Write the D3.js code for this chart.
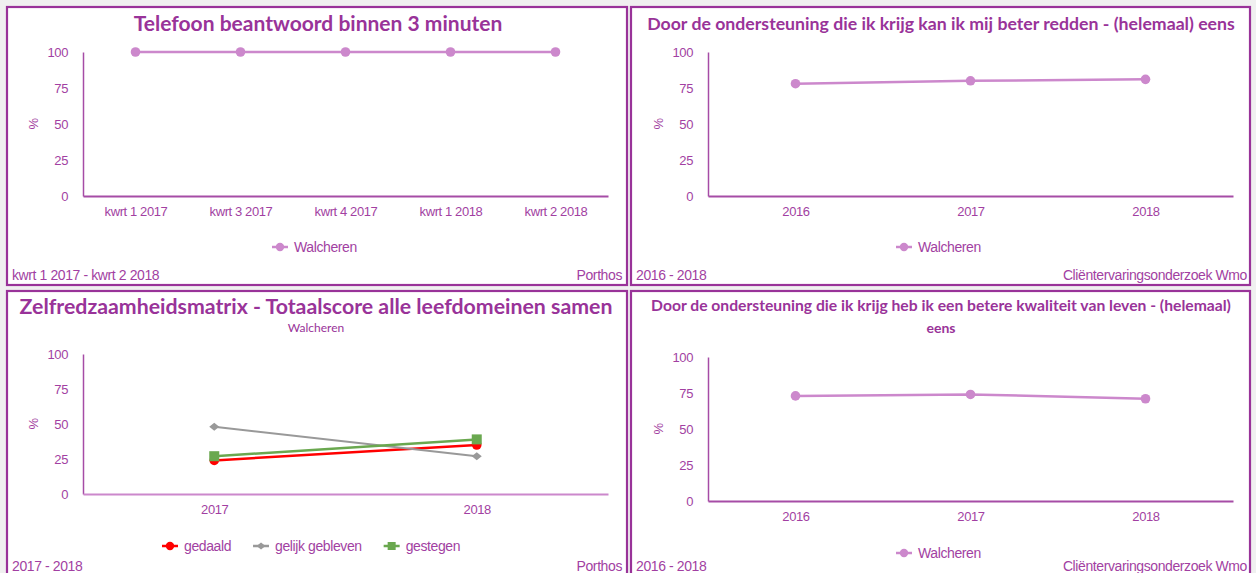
<!DOCTYPE html>
<html>
<head>
<meta charset="utf-8">
<script src="https://cdn.jsdelivr.net/npm/d3@7"></script>
<style>
body{margin:0;background:#fff;}
svg{display:block;}
.tick text,.lbl{font-family:"Liberation Sans Narrow","Arial Narrow","Liberation Sans",sans-serif;fill:#a23fa2;letter-spacing:-0.4px;}
.ttl{font-family:Lato,"Open Sans",sans-serif;font-weight:bold;fill:#993399;}
</style>
</head>
<body>
<svg id="chart" width="1256" height="573"></svg>
<script>
// data
var kwartalen=["kwrt 1 2017","kwrt 3 2017","kwrt 4 2017","kwrt 1 2018","kwrt 2 2018"];
var telefoonWalcheren=[100,100,100,100,100];

var jaren3=["2016","2017","2018"];
var redderWalcheren=[78,80,81];
var kwaliteitWalcheren=[73,74,71];

var jaren2=["2017","2018"];
var gedaald=[24,35];
var gelijkGebleven=[48,27];
var gestegen=[27,39];

var yTicks=[0,25,50,75,100];

var PURPLE="#993399";
var AXIS="#a64ca6";
var LIGHT="#cc88cc";

var svg=d3.select("#chart");
svg.append("rect").attr("width",1256).attr("height",573).attr("fill","#f0f0f0");

//panel frame
function drawFrame(x,y,w,h){
	svg.append("rect")
		.attr("x",x).attr("y",y).attr("width",w).attr("height",h)
		.attr("fill","#fff").attr("stroke",PURPLE).attr("stroke-width",2.2);
}

//title text, resized to a given width
function drawTitle(text,cx,cy,size,width){
	var t=svg.append("text").attr("class","ttl")
		.attr("x",cx).attr("y",cy).attr("dy","0.35em")
		.attr("text-anchor","middle").style("font-size",size+"px").text(text);
	var len=t.node().getComputedTextLength();
	if(width&&len>0){t.style("font-size",(size*width/len)+"px");}
	return t;
}

function drawMarker(g,shape,x,y,color,big){
	if(shape=="circle"){
		g.append("circle").attr("cx",x).attr("cy",y).attr("r",big?4.8:4.2).attr("fill",color);
	}else if(shape=="square"){
		var s=big?10:8;
		g.append("rect").attr("x",x-s/2).attr("y",y-s/2).attr("width",s).attr("height",s).attr("fill",color);
	}else{
		var w=big?5:4.5,h=big?4:3.5;
		g.append("path").attr("d","M"+(x-w)+","+y+"L"+x+","+(y-h)+"L"+(x+w)+","+y+"L"+x+","+(y+h)+"Z").attr("fill",color);
	}
}

function drawPlot(p){
	var x=d3.scalePoint().domain(p.cats).range([p.x0,p.x1]).padding(0.5);
	var y=d3.scaleLinear().domain([0,100]).range([p.yBot,p.yTop]);
	var g=svg.append("g");

	var ya=g.append("g").attr("transform","translate("+p.x0+",0)")
		.call(d3.axisLeft(y).tickValues(yTicks).tickSize(0).tickPadding(15));
	ya.select(".domain").attr("stroke",AXIS).attr("stroke-width",1.5);
	ya.selectAll("text").style("font-size","13px");

	var xa=g.append("g").attr("transform","translate(0,"+p.yBot+")")
		.call(d3.axisBottom(x).tickSize(0).tickSizeOuter(0).tickPadding(11));
	xa.select(".domain").attr("stroke",p.xAxisColor||AXIS).attr("stroke-width",2.2);
	xa.selectAll("text").style("font-size","13px");

	g.append("text").attr("class","lbl")
		.attr("transform","translate("+(p.x0-50)+","+((p.yTop+p.yBot)/2)+") rotate(-90)")
		.attr("text-anchor","middle").attr("dy","0.35em").style("font-size","13px").text("%");

	var line=d3.line().x(function(d,i){return x(p.cats[i]);}).y(function(d){return y(d);});
	p.series.forEach(function(s){
		g.append("path").datum(s.values).attr("d",line)
			.attr("fill","none").attr("stroke",s.color).attr("stroke-width",s.width||2.5);
		s.values.forEach(function(v,i){drawMarker(g,s.shape,x(p.cats[i]),y(v),s.color,true);});
	});

	//legend
	var lg=svg.append("g");
	var lx=p.legendX;
	p.series.forEach(function(s,i){
		lg.append("line").attr("x1",lx).attr("x2",lx+16).attr("y1",p.legendY).attr("y2",p.legendY)
			.attr("stroke",s.color).attr("stroke-width",2.5);
		drawMarker(lg,s.shape,lx+8,p.legendY,s.color,false);
		var t=lg.append("text").attr("class","lbl").attr("x",lx+22).attr("y",p.legendY)
			.attr("dy","0.35em").style("font-size","14px").text(s.name);
		lx+=22+t.node().getComputedTextLength()+p.legendGap;
	});
}

function drawFooter(left,right,xl,xr,yy){
	svg.append("text").attr("class","lbl").attr("x",xl).attr("y",yy).attr("dy","0.35em")
		.style("font-size","14px").text(left);
	svg.append("text").attr("class","lbl").attr("x",xr).attr("y",yy).attr("dy","0.35em")
		.attr("text-anchor","end").style("font-size","14px").text(right);
}

// panels
drawFrame(7,7,620,278);
drawFrame(631,7,619,278);
drawFrame(7,291,620,290);
drawFrame(631,291,619,290);

drawTitle("Telefoon beantwoord binnen 3 minuten",318,24,19,369);
drawPlot({cats:kwartalen,x0:83,x1:608,yTop:52,yBot:196,legendX:272,legendY:247,legendGap:20,
	series:[{name:"Walcheren",values:telefoonWalcheren,color:LIGHT,shape:"circle"}]});
drawFooter("kwrt 1 2017 - kwrt 2 2018","Porthos",12,622,275);

drawTitle("Door de ondersteuning die ik krijg kan ik mij beter redden - (helemaal) eens",941,24,15,588);
drawPlot({cats:jaren3,x0:708,x1:1233,yTop:52,yBot:196,legendX:896,legendY:247,legendGap:20,
	series:[{name:"Walcheren",values:redderWalcheren,color:LIGHT,shape:"circle"}]});
drawFooter("2016 - 2018","Cliëntervaringsonderzoek Wmo",636,1247,275);

drawTitle("Zelfredzaamheidsmatrix - Totaalscore alle leefdomeinen samen",316,307,19,593);
drawTitle("Walcheren",316,328,12).style("font-weight","normal");
drawPlot({cats:jaren2,x0:83,x1:608,yTop:354,yBot:494,legendX:162,legendY:546,legendGap:22,xAxisColor:LIGHT,
	series:[
		{name:"gedaald",values:gedaald,color:"#ff0000",shape:"circle"},
		{name:"gelijk gebleven",values:gelijkGebleven,color:"#999999",shape:"diamond",width:2},
		{name:"gestegen",values:gestegen,color:"#6aa84f",shape:"square"}
	]});
drawFooter("2017 - 2018","Porthos",12,622,566);

drawTitle("Door de ondersteuning die ik krijg heb ik een betere kwaliteit van leven - (helemaal)",941,306,14,580);
drawTitle("eens",941,328,14);
drawPlot({cats:jaren3,x0:708,x1:1233,yTop:357,yBot:501,legendX:896,legendY:553,legendGap:20,
	series:[{name:"Walcheren",values:kwaliteitWalcheren,color:LIGHT,shape:"circle"}]});
drawFooter("2016 - 2018","Cliëntervaringsonderzoek Wmo",636,1247,566);
</script>
</body>
</html>
